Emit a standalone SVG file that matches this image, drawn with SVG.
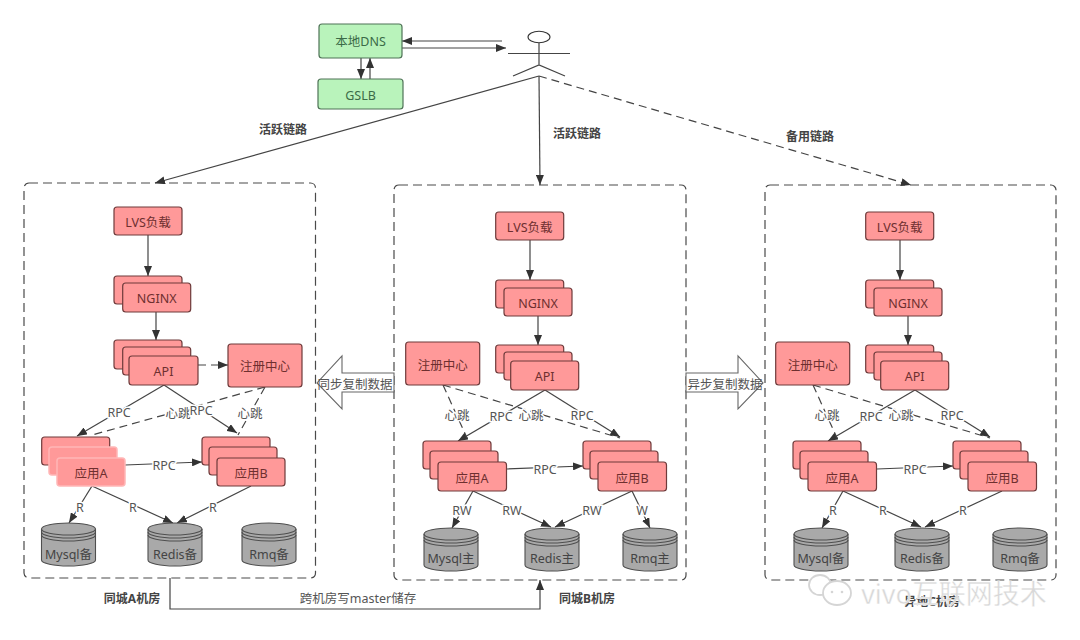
<svg xmlns="http://www.w3.org/2000/svg" xmlns:xlink="http://www.w3.org/1999/xlink" width="1080" height="640" viewBox="0 0 1080 640">
<style>
text{font-family:"Noto Sans","Noto Sans CJK SC",sans-serif;font-size:12.500px;text-anchor:middle;dominant-baseline:central}
.n rect{fill:#ff9999;stroke:#6e3b3b;stroke-width:1.2}
.n text{fill:#6e2f2f}
.n.soft rect{stroke:#ffb6b6;stroke-width:1.5}
.g rect{fill:#b9f3bb;stroke:#4f7357;stroke-width:1.2}
.g text{fill:#3b6b47}
#cyl path{fill:#a9a9a9;stroke:#4f4f4f;stroke-width:1.1}
#cyl path.l{fill:none}
.db text{fill:#444}
.room{fill:none;stroke:#4a4a4a;stroke-width:1.2;stroke-dasharray:9 5}
.c{fill:none;stroke:#444;stroke-width:1.2}
.a{marker-end:url(#ah)}
.d{stroke-dasharray:8 5}
.lb{fill:#555;paint-order:stroke;stroke:#fff;stroke-width:3px}
.t{fill:#444;font-weight:700;font-size:12px}
.bar{fill:#fff;stroke:#666;stroke-width:1.1}
.bt{fill:#555}
.wm{fill:#d8d8d8;stroke:#fff;stroke-width:.4;font-size:27px}
</style>
<defs>
<marker id="ah" markerUnits="userSpaceOnUse" markerWidth="11" markerHeight="8" refX="10" refY="4" orient="auto"><path d="M0 0L10 4L0 8z" fill="#333"/></marker>
<g id="cyl">
<path d="M0 6A27 6 0 0 1 54 6V37A27 6 0 0 1 0 37z"/>
<path class="l" d="M0 6A27 6 0 0 0 54 6M0 9A27 6 0 0 0 54 9M0 12A27 6 0 0 0 54 12"/>
</g>
</defs>
<rect width="1080" height="640" fill="#fff"/>

<g id="rooms">
<rect class="room" x="24" y="183" width="291.500" height="395" rx="5"/>
<rect class="room" x="394" y="185" width="292" height="395" rx="5"/>
<rect class="room" x="765" y="185" width="291" height="395" rx="5"/>
</g>

<g id="sync-arrows">
<path class="bar" d="M394 373H342V356L317 383L342 409V392H394z"/>
<text class="bt" x="355" y="384">同步复制数据</text>
<path class="bar" d="M686 373H738V356L763 383L738 409V392H686z"/>
<text class="bt" x="725" y="384">异步复制数据</text>
</g>

<g id="connectors">
<path class="c a" d="M502 41H402"/>
<path class="c a" d="M402 48H506"/>
<path class="c a" d="M361 58V79"/>
<path class="c a" d="M370 79V58"/>
<path class="c a" d="M539 76L155 183"/>
<path class="c a" d="M539 76L540 185"/>
<path class="c a d" d="M539 76L911 185"/>
<path class="c a" d="M170 578V609H540V580"/>

<path class="c a" d="M148 235V276"/>
<path class="c a" d="M156 312V340"/>
<path class="c a d" d="M198 365H228"/>
<path class="c a" d="M164 385L77 436"/>
<path class="c a" d="M164 385L237 433"/>
<path class="c d" d="M265 387L92 435"/>
<path class="c d" d="M265 387L238 435"/>
<path class="c a" d="M125 465L202 462"/>
<path class="c a" d="M92 486L69 523"/>
<path class="c a" d="M92 486L173 523"/>
<path class="c a" d="M251 486L177 523"/>

<path class="c a" d="M530 240V280"/>
<path class="c a" d="M538 316V345"/>
<path class="c a" d="M545 390L458 441"/>
<path class="c a" d="M545 390L620 437"/>
<path class="c d" d="M443 385L467 438"/>
<path class="c d" d="M443 385L620 438"/>
<path class="c a" d="M507 469L583 466"/>
<path class="c a" d="M473 491L452 528"/>
<path class="c a" d="M473 491L551 527"/>
<path class="c a" d="M632 491L555 527"/>
<path class="c a" d="M632 491L650 528"/>

<path class="c a" d="M900 240V280"/>
<path class="c a" d="M908 316V345"/>
<path class="c a" d="M915 390L828 441"/>
<path class="c a" d="M915 390L990 437"/>
<path class="c d" d="M813 385L837 438"/>
<path class="c d" d="M813 385L990 438"/>
<path class="c a" d="M877 469L953 466"/>
<path class="c a" d="M843 491L822 528"/>
<path class="c a" d="M843 491L921 527"/>
<path class="c a" d="M1002 491L925 527"/>
</g>

<g id="connector-labels">
<text class="lb" x="119" y="412">RPC</text><text class="lb" x="178" y="413">心跳</text><text class="lb" x="201" y="410">RPC</text><text class="lb" x="250" y="413">心跳</text>
<text class="lb" x="164" y="465">RPC</text><text class="lb" x="80" y="507">R</text><text class="lb" x="133" y="507">R</text><text class="lb" x="213" y="507">R</text>
<text class="lb" x="457" y="415">心跳</text><text class="lb" x="501" y="416">RPC</text><text class="lb" x="531" y="415">心跳</text><text class="lb" x="582" y="415">RPC</text>
<text class="lb" x="545" y="469">RPC</text><text class="lb" x="462" y="510">RW</text><text class="lb" x="512" y="510">RW</text><text class="lb" x="592" y="510">RW</text><text class="lb" x="642" y="510">W</text>
<text class="lb" x="827" y="415">心跳</text><text class="lb" x="871" y="416">RPC</text><text class="lb" x="901" y="415">心跳</text><text class="lb" x="952" y="415">RPC</text>
<text class="lb" x="915" y="469">RPC</text><text class="lb" x="833" y="510">R</text><text class="lb" x="883" y="510">R</text><text class="lb" x="963" y="510">R</text>
<text class="t" x="283" y="129">活跃链路</text><text class="t" x="577" y="133">活跃链路</text><text class="t" x="810" y="136">备用链路</text>
<text class="bt" x="358" y="598">跨机房写master储存</text>
</g>

<g id="user"><ellipse cx="539" cy="37" rx="11" ry="5.700" fill="#fff" stroke="#333" stroke-width="1.100"/><path class="c" d="M539 43V65M508 53.500H570M513 76L539 65L565 76"/></g>
<g id="dns" class="g"><rect x="319" y="24" width="83" height="34" rx="3"/><text x="360.500" y="41">本地DNS</text></g>
<g id="gslb" class="g"><rect x="318" y="79" width="85" height="30" rx="3"/><text x="360.500" y="95">GSLB</text></g>

<g id="a-lvs" class="n"><rect x="114" y="207" width="68" height="28" rx="3"/><text x="148" y="222">LVS负载</text></g>
<g id="a-nginx" class="n"><rect x="114" y="276" width="68" height="28" rx="3"/><rect x="122.700" y="283" width="68" height="29" rx="3"/><text x="156.700" y="298">NGINX</text></g>
<g id="a-api" class="n"><rect x="114" y="340" width="68" height="29" rx="3"/><rect x="122.700" y="347" width="68" height="28" rx="3"/><rect x="129" y="356" width="69" height="29" rx="3"/><text x="163.500" y="371">API</text></g>
<g id="a-reg" class="n"><rect x="228" y="344" width="74" height="43" rx="3"/><text x="265" y="366">注册中心</text></g>
<g id="a-appa" class="n"><rect x="41.700" y="437" width="68" height="28" rx="3"/></g>
<g id="a-appa-top" class="n soft"><rect x="49" y="447" width="68" height="28" rx="3"/><rect x="57" y="458" width="68" height="28" rx="3"/><text x="91" y="473">应用A</text></g>
<g id="a-appb" class="n"><rect x="202" y="437" width="68" height="28" rx="3"/><rect x="209" y="447" width="68" height="28" rx="3"/><rect x="217" y="458" width="68" height="28" rx="3"/><text x="251" y="473">应用B</text></g>
<g id="a-mysql" class="db"><use xlink:href="#cyl" href="#cyl" x="41.500" y="523"/><text x="68.500" y="554">Mysql备</text></g>
<g id="a-redis" class="db"><use xlink:href="#cyl" href="#cyl" x="148" y="523"/><text x="175" y="554">Redis备</text></g>
<g id="a-rmq" class="db"><use xlink:href="#cyl" href="#cyl" x="242" y="523"/><text x="269" y="554">Rmq备</text></g>

<g id="b-lvs" class="n"><rect x="495.700" y="212" width="68" height="28" rx="3"/><text x="529.700" y="227">LVS负载</text></g>
<g id="b-nginx" class="n"><rect x="495.700" y="280" width="68" height="28" rx="3"/><rect x="504" y="288" width="68" height="28" rx="3"/><text x="538" y="303">NGINX</text></g>
<g id="b-api" class="n"><rect x="495.700" y="345" width="68" height="28" rx="3"/><rect x="504" y="352" width="68" height="28" rx="3"/><rect x="510.700" y="361" width="68" height="29" rx="3"/><text x="544.700" y="376">API</text></g>
<g id="b-reg" class="n"><rect x="405.700" y="342" width="74" height="43" rx="3"/><text x="442.700" y="365">注册中心</text></g>
<g id="b-appa" class="n"><rect x="423" y="441" width="68" height="28" rx="3"/><rect x="430" y="451" width="68" height="28" rx="3"/><rect x="438" y="462" width="68.500" height="29" rx="3"/><text x="472" y="478">应用A</text></g>
<g id="b-appb" class="n"><rect x="583" y="441" width="68" height="28" rx="3"/><rect x="590" y="451" width="68" height="28" rx="3"/><rect x="598" y="462" width="68.500" height="29" rx="3"/><text x="632" y="478">应用B</text></g>
<g id="b-mysql" class="db"><use xlink:href="#cyl" href="#cyl" x="424" y="528"/><text x="451" y="558">Mysql主</text></g>
<g id="b-redis" class="db"><use xlink:href="#cyl" href="#cyl" x="525" y="528"/><text x="552" y="558">Redis主</text></g>
<g id="b-rmq" class="db"><use xlink:href="#cyl" href="#cyl" x="623" y="528"/><text x="650" y="558">Rmq主</text></g>

<g id="c-lvs" class="n"><rect x="865.700" y="212" width="68" height="28" rx="3"/><text x="899.700" y="227">LVS负载</text></g>
<g id="c-nginx" class="n"><rect x="865.700" y="280" width="68" height="28" rx="3"/><rect x="874" y="288" width="68" height="28" rx="3"/><text x="908" y="303">NGINX</text></g>
<g id="c-api" class="n"><rect x="865.700" y="345" width="68" height="28" rx="3"/><rect x="874" y="352" width="68" height="28" rx="3"/><rect x="880.700" y="361" width="68" height="29" rx="3"/><text x="914.700" y="376">API</text></g>
<g id="c-reg" class="n"><rect x="775.700" y="342" width="74" height="43" rx="3"/><text x="812.700" y="365">注册中心</text></g>
<g id="c-appa" class="n"><rect x="793" y="441" width="68" height="28" rx="3"/><rect x="800" y="451" width="68" height="28" rx="3"/><rect x="808" y="462" width="68.500" height="29" rx="3"/><text x="842" y="478">应用A</text></g>
<g id="c-appb" class="n"><rect x="953" y="441" width="68" height="28" rx="3"/><rect x="960" y="451" width="68" height="28" rx="3"/><rect x="968" y="462" width="68.500" height="29" rx="3"/><text x="1002" y="478">应用B</text></g>
<g id="c-mysql" class="db"><use xlink:href="#cyl" href="#cyl" x="794" y="528"/><text x="821" y="558">Mysql备</text></g>
<g id="c-redis" class="db"><use xlink:href="#cyl" href="#cyl" x="895" y="528"/><text x="922" y="558">Redis备</text></g>
<g id="c-rmq" class="db"><use xlink:href="#cyl" href="#cyl" x="993" y="528"/><text x="1020" y="558">Rmq备</text></g>

<g id="room-labels">
<text class="t" x="132" y="598">同城A机房</text>
<text class="t" x="587" y="598">同城B机房</text>
<text class="t" x="932" y="601">异地C机房</text>
</g>

<g id="watermark">
<ellipse cx="820" cy="585" rx="11" ry="10" fill="#fff" stroke="#d5d5d5" stroke-width="1.800"/>
<ellipse cx="837" cy="593" rx="14" ry="12" fill="#fff" stroke="#d5d5d5" stroke-width="1.800"/>
<circle cx="832" cy="592" r="1.300" fill="#d5d5d5"/><circle cx="842" cy="592" r="1.300" fill="#d5d5d5"/>
<text class="wm" x="954" y="593">vivo互联网技术</text>
</g>
</svg>
